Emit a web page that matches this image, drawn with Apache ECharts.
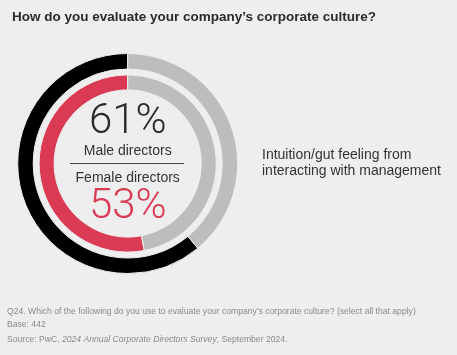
<!DOCTYPE html>
<html>
<head>
<meta charset="utf-8">
<script src="https://cdn.jsdelivr.net/npm/echarts@6/dist/echarts.min.js"></script>
<style>
html,body{margin:0;padding:0;background:#eeeeee;}
#chart{width:457px;height:355px;}
</style>
</head>
<body>
<div id="chart"></div>
<script>
const title = "How do you evaluate your company\u2019s corporate culture?";
const groups = ["Male directors", "Female directors"];
const maleValues = [61, 39];
const femaleValues = [53, 47];
const answerLabel = "Intuition/gut feeling from\ninteracting with management";
const footnotes = [
  "Q24. Which of the following do you use to evaluate your company\u2019s corporate culture? (select all that apply)",
  "Base: 442"
];

const bg = '#eeeeee';
const grey = '#bdbdbd';
const red = '#db3a55';
const cx = 127.7, cy = 163.5;

const chart = echarts.init(document.getElementById('chart'), null, {renderer: 'canvas'});
chart.setOption({
  backgroundColor: bg,
  animation: false,
  title: {
    text: title,
    left: 7, top: 5,
    textStyle: {fontFamily: 'Liberation Sans', fontWeight: 'bold', fontSize: 13.5, color: '#2b2b2b'}
  },
  series: [
    {
      type: 'pie', center: [cx, cy], radius: [94.5, 110],
      startAngle: 90, clockwise: false, silent: true,
      label: {show: false}, labelLine: {show: false},
      itemStyle: {borderColor: bg, borderWidth: 1},
      data: [
        {name: groups[0], value: maleValues[0], itemStyle: {color: '#000000'}},
        {name: 'other', value: maleValues[1], itemStyle: {color: grey}}
      ]
    },
    {
      type: 'pie', center: [cx, cy], radius: [73.6, 88.6],
      startAngle: 90, clockwise: false, silent: true,
      label: {show: false}, labelLine: {show: false},
      itemStyle: {borderColor: bg, borderWidth: 1},
      data: [
        {name: groups[1], value: femaleValues[0], itemStyle: {color: red}},
        {name: 'other', value: femaleValues[1], itemStyle: {color: grey}}
      ]
    }
  ],
  graphic: [
    {type: 'line', z: 100, shape: {x1: 70, y1: 163.5, x2: 184, y2: 163.5}, style: {stroke: '#444', lineWidth: 1}},
    {type: 'text', z: 100, x: cx, y: 122.3, style: {text: maleValues[0] + '%', fontFamily: 'Roboto', fontWeight: 300, fontSize: 42, fill: '#2b2b2b', align: 'center', verticalAlign: 'middle'}},
    {type: 'text', z: 100, x: cx, y: 150.8, style: {text: groups[0], fontFamily: 'Liberation Sans', fontSize: 14, fill: '#333', align: 'center', verticalAlign: 'middle'}},
    {type: 'text', z: 100, x: cx, y: 178.2, style: {text: groups[1], fontFamily: 'Liberation Sans', fontSize: 14, fill: '#333', align: 'center', verticalAlign: 'middle'}},
    {type: 'text', z: 100, x: cx, y: 207.8, style: {text: femaleValues[0] + '%', fontFamily: 'Roboto', fontWeight: 300, fontSize: 42, fill: red, align: 'center', verticalAlign: 'middle'}},
    {type: 'text', z: 100, x: 262, y: 163.4, style: {text: answerLabel, fontFamily: 'Liberation Sans', fontSize: 14, lineHeight: 16, fill: '#333', align: 'left', verticalAlign: 'middle'}},
    {type: 'text', z: 100, x: 7, y: 311.8, style: {text: footnotes[0], fontFamily: 'Liberation Sans', fontSize: 8.6, fill: '#8a8a8a', verticalAlign: 'middle'}},
    {type: 'text', z: 100, x: 7, y: 325.1, style: {text: footnotes[1], fontFamily: 'Liberation Sans', fontSize: 8.6, fill: '#8a8a8a', verticalAlign: 'middle'}},
    {type: 'text', z: 100, x: 7, y: 340.1, style: {
      text: '{n|Source: PwC, }{i|2024 Annual Corporate Directors Survey}{n|, September 2024.}',
      fill: '#8a8a8a', verticalAlign: 'middle',
      rich: {
        n: {fontFamily: 'Liberation Sans', fontSize: 8.6, fill: '#8a8a8a'},
        i: {fontFamily: 'Liberation Sans', fontSize: 8.6, fontStyle: 'italic', fill: '#8a8a8a'}
      }
    }}
  ]
});
</script>
</body>
</html>
